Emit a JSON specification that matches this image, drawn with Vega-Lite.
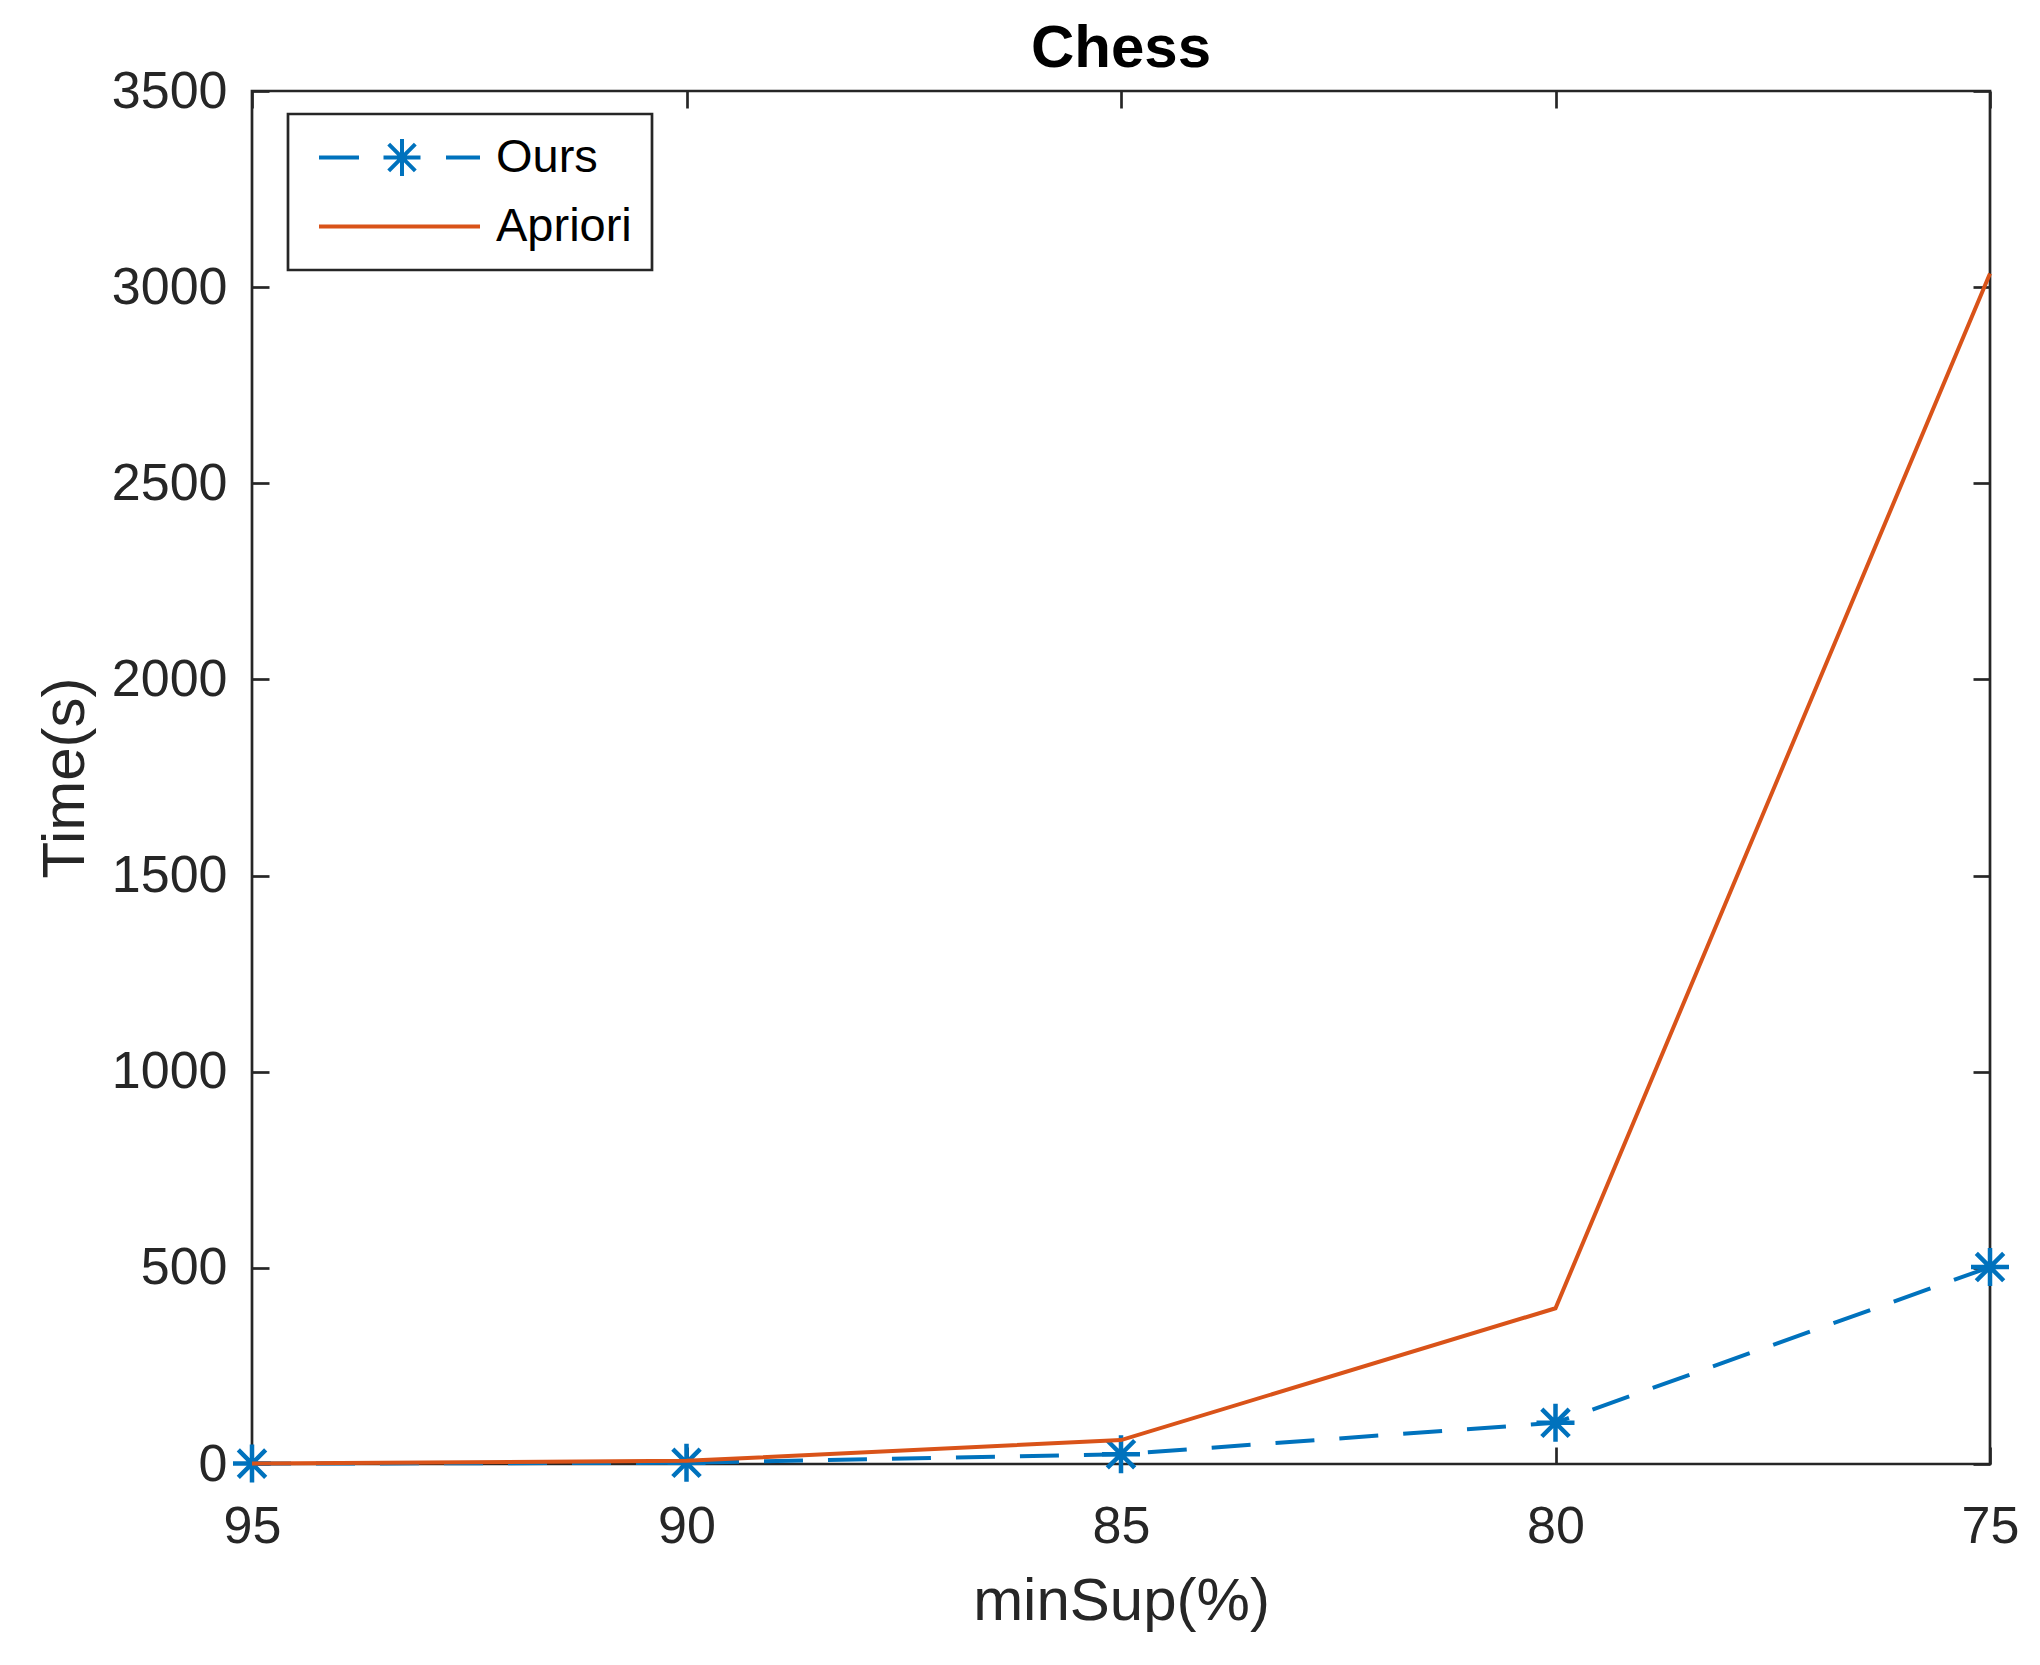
{
  "$schema": "https://vega.github.io/schema/vega-lite/v6.json",
  "width": 1738,
  "height": 1373,
  "autosize": {"type": "none"},
  "padding": {"left": 252, "top": 91, "right": 50, "bottom": 201},
  "background": "white",
  "title": {
    "text": "Chess",
    "font": "Liberation Sans",
    "fontSize": 60,
    "fontWeight": "bold",
    "color": "#000000",
    "anchor": "middle",
    "offset": 13,
    "dy": 28
  },
  "data": {
    "values": [
      {"minSup": 95, "time": 1, "series": "Ours"},
      {"minSup": 90, "time": 3, "series": "Ours"},
      {"minSup": 85, "time": 25, "series": "Ours"},
      {"minSup": 80, "time": 105, "series": "Ours"},
      {"minSup": 75, "time": 502, "series": "Ours"},
      {"minSup": 95, "time": 1, "series": "Apriori"},
      {"minSup": 90, "time": 8, "series": "Apriori"},
      {"minSup": 85, "time": 61, "series": "Apriori"},
      {"minSup": 80, "time": 397, "series": "Apriori"},
      {"minSup": 75, "time": 3035, "series": "Apriori"}
    ]
  },
  "layer": [
    {
      "transform": [{"filter": "datum.series === 'Ours'"}],
      "mark": {"type": "line", "strokeWidth": 4, "strokeDash": [39, 25]},
      "encoding": {
        "x": {
          "field": "minSup", "type": "quantitative",
          "scale": {"domain": [75, 95], "reverse": true, "nice": false, "zero": false},
          "axis": {
            "orient": "bottom", "values": [95, 90, 85, 80, 75], "format": "d",
            "domain": false, "grid": false, "labelFlush": false,
            "tickSize": -17, "tickWidth": 2.7, "tickColor": "#262626",
            "labelFont": "Liberation Sans", "labelFontSize": 52, "labelColor": "#262626",
            "labelPadding": 54,
            "title": "minSup(%)", "titleFont": "Liberation Sans", "titleFontSize": 60,
            "titleFontWeight": "normal", "titleColor": "#262626", "titlePadding": 20
          }
        },
        "y": {
          "field": "time", "type": "quantitative",
          "scale": {"domain": [0, 3500], "nice": false},
          "axis": {
            "orient": "left", "values": [0, 500, 1000, 1500, 2000, 2500, 3000, 3500], "format": "d",
            "domain": false, "grid": false, "labelFlush": false,
            "tickSize": -17, "tickWidth": 2.7, "tickColor": "#262626",
            "labelFont": "Liberation Sans", "labelFontSize": 52, "labelColor": "#262626",
            "labelPadding": 42,
            "title": "Time(s)", "titleFont": "Liberation Sans", "titleFontSize": 60,
            "titleFontWeight": "normal", "titleColor": "#262626", "titlePadding": 15
          }
        },
        "color": {
          "field": "series", "type": "nominal",
          "scale": {"domain": ["Ours", "Apriori"], "range": ["#0072BD", "#D95319"]},
          "legend": {
            "orient": "none", "legendX": 36, "legendY": 23,
            "title": null,
            "strokeColor": "#262626", "fillColor": "white",
            "padding": 20, "cornerRadius": 0,
            "symbolSize": 400, "symbolStrokeWidth": 4, "symbolOffset": 68,
            "labelOffset": 73, "labelFont": "Liberation Sans", "labelFontSize": 47,
            "labelColor": "#000000", "labelLimit": 0, "rowPadding": 18,
            "encode": {
              "legend": {"update": {"strokeWidth": {"value": 2.7}}},
              "symbols": {
                "update": {
                  "shape": {"signal": "datum.value === 'Ours' ? 'M-8.05,0L-4.05,0M4.65,0L8.05,0M-1.6,0L2.1,0M0.25,-1.85L0.25,1.85M-1.08,-1.33L1.58,1.33M-1.08,1.33L1.58,-1.33' : 'M-8.05,0L8.05,0'"},
                  "fill": {"value": "transparent"},
                  "strokeDash": {"value": []}
                }
              }
            }
          }
        }
      }
    },
    {
      "transform": [{"filter": "datum.series === 'Ours'"}],
      "mark": {
        "type": "point", "filled": false, "opacity": 1, "strokeWidth": 4.5, "size": 1444,
        "shape": "M-1,0L1,0M0,-1L0,1M-0.72,-0.72L0.72,0.72M-0.72,0.72L0.72,-0.72"
      },
      "encoding": {
        "x": {"field": "minSup", "type": "quantitative", "axis": null},
        "y": {"field": "time", "type": "quantitative", "axis": null},
        "color": {"field": "series", "type": "nominal"}
      }
    },
    {
      "transform": [{"filter": "datum.series === 'Apriori'"}],
      "mark": {"type": "line", "strokeWidth": 4},
      "encoding": {
        "x": {"field": "minSup", "type": "quantitative", "axis": null},
        "y": {"field": "time", "type": "quantitative", "axis": null},
        "color": {"field": "series", "type": "nominal"}
      }
    },
    {
      "mark": {"type": "point", "opacity": 0},
      "encoding": {
        "x": {
          "field": "minSup", "type": "quantitative",
          "axis": {
            "orient": "top", "values": [95, 90, 85, 80, 75], "labels": false, "title": null,
            "domain": false, "grid": false,
            "tickSize": -17, "tickWidth": 2.7, "tickColor": "#262626"
          }
        },
        "y": {
          "field": "time", "type": "quantitative",
          "axis": {
            "orient": "right", "values": [0, 500, 1000, 1500, 2000, 2500, 3000, 3500], "labels": false, "title": null,
            "domain": false, "grid": false,
            "tickSize": -17, "tickWidth": 2.7, "tickColor": "#262626"
          }
        }
      }
    }
  ],
  "resolve": {"axis": {"x": "independent", "y": "independent"}},
  "config": {
    "view": {"stroke": "#262626", "strokeWidth": 2.7},
    "font": "Liberation Sans"
  }
}
